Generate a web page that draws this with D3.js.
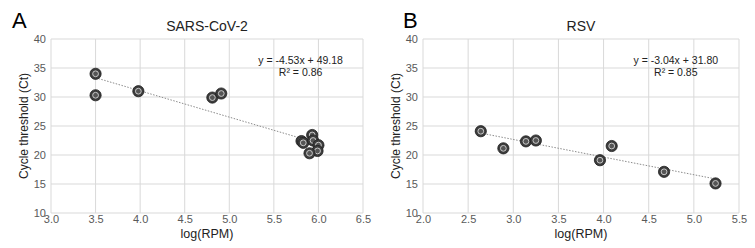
<!DOCTYPE html>
<html><head><meta charset="utf-8">
<script src="https://cdn.jsdelivr.net/npm/d3@7"></script>
<style>body{margin:0;background:#fff}svg{display:block}text{font-family:"Liberation Sans",Arial,sans-serif}</style>
</head><body><svg id="c" width="755" height="248"></svg>
<script>
const sarsX = [3.50, 3.50, 3.98, 4.81, 4.91, 5.81, 5.83, 5.93, 5.94, 6.00, 5.99, 5.90];
const sarsY = [34.0, 30.3, 31.0, 29.9, 30.6, 22.4, 22.1, 23.45, 22.5, 21.7, 20.7, 20.3];
const rsvX = [2.64, 2.89, 3.14, 3.25, 3.96, 4.09, 4.67, 5.24];
const rsvY = [24.1, 21.15, 22.35, 22.5, 19.1, 21.55, 17.1, 15.1];
const sarsXTicks = [3.0, 3.5, 4.0, 4.5, 5.0, 5.5, 6.0, 6.5];
const rsvXTicks = [2.0, 2.5, 3.0, 3.5, 4.0, 4.5, 5.0, 5.5];
const yTicks = [10, 15, 20, 25, 30, 35, 40];
const panels = [
  {letter:"A", title:"SARS-CoV-2", xs:sarsX, ys:sarsY, xt:sarsXTicks, slope:-4.53, icpt:49.18, eq:"y = -4.53x + 49.18", r2:"R² = 0.86",
   left:51, right:363, letterX:12},
  {letter:"B", title:"RSV", xs:rsvX, ys:rsvY, xt:rsvXTicks, slope:-3.04, icpt:31.80, eq:"y = -3.04x + 31.80", r2:"R² = 0.85",
   left:423, right:739, letterX:403}
];
const svg = d3.select("#c");
const plotTop = 39, plotBottom = 213;
panels.forEach(p => {
  const g = svg.append("g");
  const x = d3.scaleLinear().domain([p.xt[0], p.xt[p.xt.length-1]]).range([p.left, p.right]);
  const y = d3.scaleLinear().domain([10, 40]).range([plotBottom, plotTop]);
  g.append("g").selectAll("line").data(p.xt).join("line")
    .attr("x1", d=>x(d)).attr("x2", d=>x(d)).attr("y1", plotTop).attr("y2", plotBottom)
    .attr("stroke", "#d9d9d9").attr("stroke-width", 1);
  g.append("g").selectAll("line").data(yTicks).join("line")
    .attr("x1", p.left).attr("x2", p.right).attr("y1", d=>y(d)).attr("y2", d=>y(d))
    .attr("stroke", "#d9d9d9").attr("stroke-width", 1);
  const xa = d3.axisBottom(x).tickValues(p.xt).tickFormat(d3.format(".1f")).tickSize(0).tickPadding(2);
  const xg = g.append("g").attr("transform", `translate(0,${plotBottom})`).call(xa);
  xg.select(".domain").remove();
  xg.selectAll("text").attr("font-size", 11).attr("fill", "#595959").attr("font-family", "Liberation Sans, Arial, sans-serif");
  const ya = d3.axisLeft(y).tickValues(yTicks).tickSize(0).tickPadding(5);
  const yg = g.append("g").attr("transform", `translate(${p.left},0)`).call(ya);
  yg.select(".domain").remove();
  yg.selectAll("text").attr("font-size", 11).attr("fill", "#595959").attr("font-family", "Liberation Sans, Arial, sans-serif");
  const x0 = d3.min(p.xs), x1 = d3.max(p.xs);
  g.append("line").attr("x1", x(x0)).attr("y1", y(p.slope*x0+p.icpt))
    .attr("x2", x(x1)).attr("y2", y(p.slope*x1+p.icpt))
    .attr("stroke", "#8c8c8c").attr("stroke-width", 1).attr("stroke-dasharray", "1.5,1.5");
  const pts = g.append("g").selectAll("g").data(p.xs.map((v,i)=>[v,p.ys[i]])).join("g")
    .attr("transform", d=>`translate(${x(d[0])},${y(d[1])})`);
  pts.append("circle").attr("r", 5.6).attr("fill", "#3c3c3c").attr("stroke", "#1e1e1e").attr("stroke-width", 0.8);
  pts.append("circle").attr("r", 2.9).attr("fill", "#555").attr("stroke", "#c8c8c8").attr("stroke-width", 1);
  const cx = p.left + (p.right - p.left) * 0.8;
  g.append("text").attr("x", cx).attr("y", 64).attr("text-anchor", "middle").attr("font-size", 10.5).attr("fill", "#222").text(p.eq);
  g.append("text").attr("x", cx).attr("y", 76).attr("text-anchor", "middle").attr("font-size", 10.5).attr("fill", "#222").text(p.r2);
  g.append("text").attr("x", (p.left+p.right)/2).attr("y", 31).attr("text-anchor", "middle").attr("font-size", 14).attr("fill", "#222").text(p.title);
  g.append("text").attr("x", (p.left+p.right)/2).attr("y", 238).attr("text-anchor", "middle").attr("font-size", 12.5).attr("fill", "#222").text("log(RPM)");
  g.append("text").attr("transform", `translate(${p.left-23},${(plotTop+plotBottom)/2}) rotate(-90)`).attr("text-anchor", "middle").attr("font-size", 12).attr("fill", "#222").text("Cycle threshold (Ct)");
  g.append("text").attr("x", p.letterX).attr("y", 28).attr("font-size", 22).attr("fill", "#000").text(p.letter);
});
</script></body></html>
